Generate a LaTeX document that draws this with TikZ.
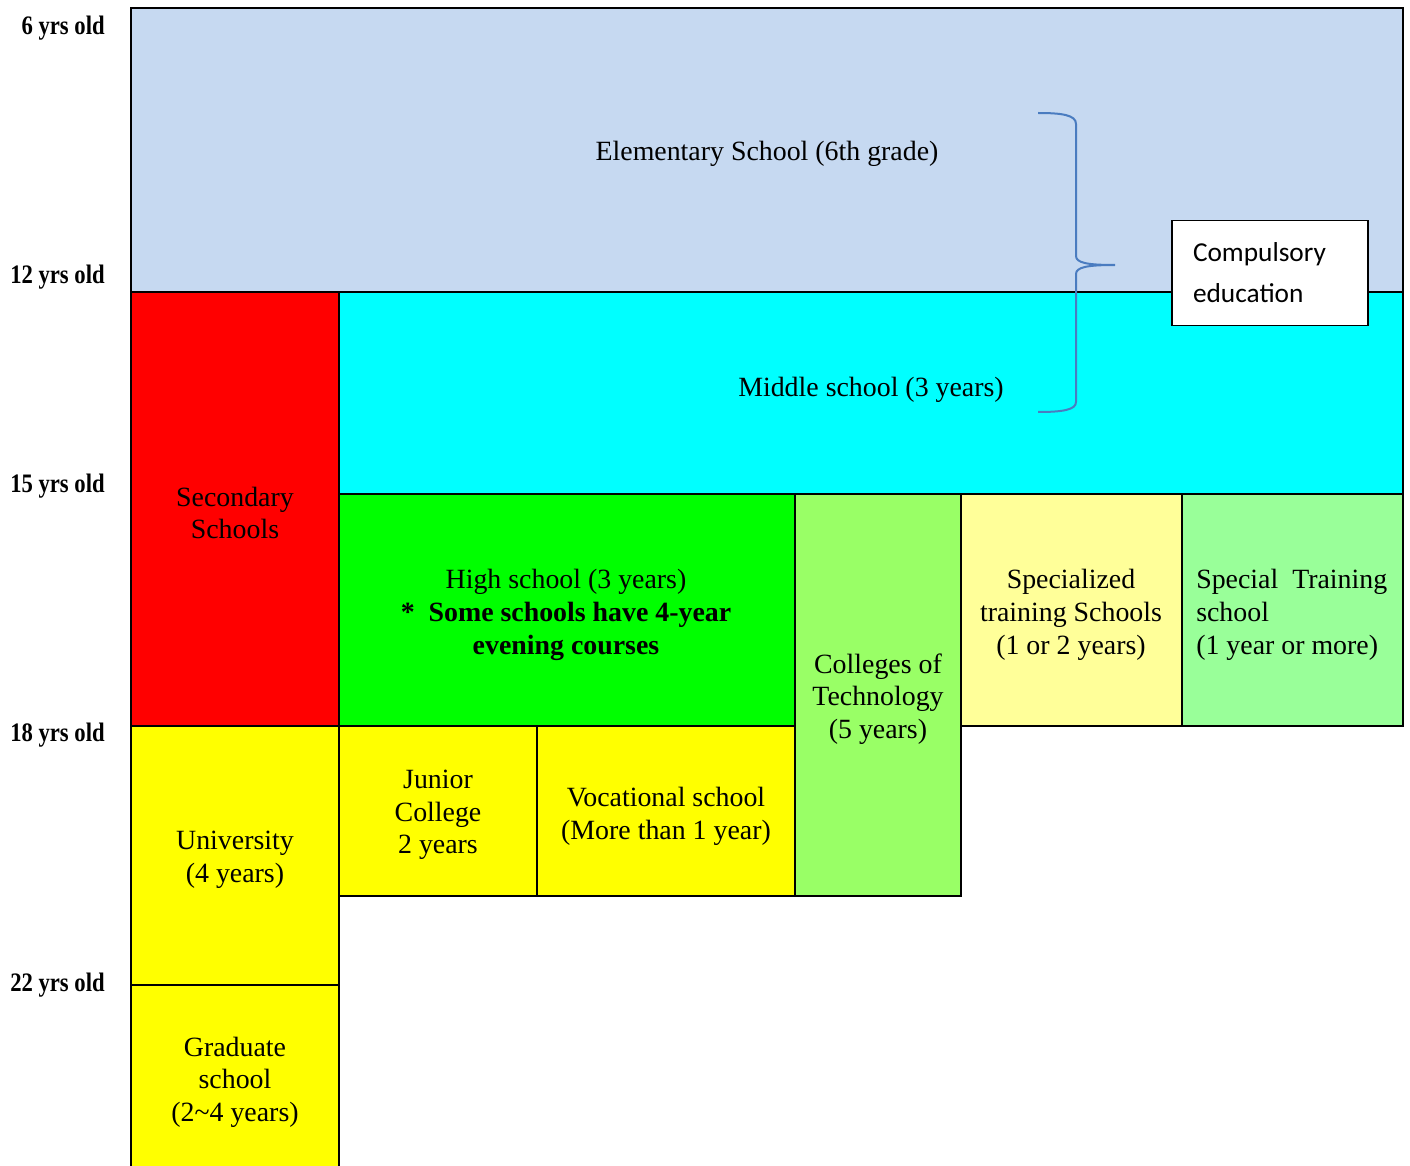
\documentclass[tikz,border=0pt]{standalone}
\usepackage{fontspec}
\setmainfont{Liberation Serif}
\newfontfamily\calib{Carlito}
\newfontfamily\agefont{Liberation Serif}[FakeStretch=0.85]
\definecolor{elem}{HTML}{C6D9F1}
\definecolor{redc}{HTML}{FF0000}
\definecolor{cyanc}{HTML}{00FFFF}
\definecolor{greenc}{HTML}{00FF00}
\definecolor{techc}{HTML}{99FF66}
\definecolor{specc}{HTML}{FFFF99}
\definecolor{trainc}{HTML}{99FF99}
\definecolor{yellowc}{HTML}{FFFF00}
\definecolor{bracec}{HTML}{4A7CC0}
\begin{document}
\begin{tikzpicture}[x=0.75pt,y=-0.75pt,
  blk/.style={draw=black, line width=1.5pt},
  lbl/.style={font=\fontsize{20.9}{24.5}\selectfont, align=center, inner sep=0pt},
  age/.style={font=\agefont\bfseries\fontsize{20}{22}\selectfont, anchor=east, inner sep=0pt},
  bracestyle/.style={draw=bracec, line width=1.5pt}]
\useasboundingbox (0,0) rectangle (1410,1166);
\begin{scope}
\clip (0,0) rectangle (1410,1166);
% blocks
\filldraw[blk, fill=elem] (131,8) rectangle (1403,292);
\filldraw[blk, fill=redc] (131,292) rectangle (339,726);
\filldraw[blk, fill=cyanc] (339,292) rectangle (1403,494);
\filldraw[blk, fill=greenc] (339,494) rectangle (795,726);
\filldraw[blk, fill=techc] (795,494) rectangle (961,896);
\filldraw[blk, fill=specc] (961,494) rectangle (1182,726);
\filldraw[blk, fill=trainc] (1182,494) rectangle (1403,726);
\filldraw[blk, fill=yellowc] (131,726) rectangle (339,985);
\filldraw[blk, fill=yellowc] (131,985) rectangle (339,1180);
\filldraw[blk, fill=yellowc] (339,726) rectangle (537,896);
\filldraw[blk, fill=yellowc] (537,726) rectangle (795,896);
\end{scope}
% block labels
\node[lbl] (elemt) at (767,154) {Elementary School (6th grade)};
\node[lbl] (midt) at (871,390) {Middle school (3 years)};
\node[lbl] (sect) at (235,513) {Secondary\\Schools};
\node[lbl] (hight) at (566,615) {High school (3 years)\\\textbf{*\ \ Some schools have 4-year}\\\textbf{evening courses}};
\node[lbl] (techt) at (878,699) {Colleges of\\Technology\\(5 years)};
\node[lbl] (spect) at (1071,615) {Specialized\\training Schools\\(1 or 2 years)};
\node[lbl, align=left, anchor=west] (traint) at (1196,615) {Special\ \ Training\\school\\(1 year or more)};
\node[lbl] (unit) at (235,860) {University\\(4 years)};
\node[lbl] (jct) at (438,815) {Junior\\College\\2 years};
\node[lbl] (voct) at (666,816) {Vocational school\\(More than 1 year)};
\node[lbl] (gradt) at (235,1082) {Graduate\\school\\(2\textasciitilde4 years)};
% ages
\node[age] (a6) at (105,28) {6 yrs old};
\node[age] (a12) at (105,277) {12 yrs old};
\node[age] (a15) at (105,486) {15 yrs old};
\node[age] (a18) at (105,735) {18 yrs old};
\node[age] (a22) at (105,985) {22 yrs old};
% brace
\coordinate (bt) at (1038,113);
\coordinate (bb) at (1038,412);
\coordinate (tip) at (1115,265);
\draw[bracestyle] (bt) .. controls (1062,113) and (1076,115) .. (1076,124) -- (1076,256)
  .. controls (1076,263) and (1088,265) .. (tip)
  .. controls (1088,265) and (1076,267) .. (1076,274) -- (1076,402)
  .. controls (1076,410) and (1062,412) .. (bb);
% compulsory box
\node[draw=black, line width=1.1pt, fill=white, text width=115.5pt, align=left,
      inner xsep=15.75pt, inner ysep=0pt, minimum height=78.75pt,
      font=\calib\fontsize{20.5}{30.75}\selectfont] (comp) at (1270,273) {Compulsory\\education};
\end{tikzpicture}
\end{document}
